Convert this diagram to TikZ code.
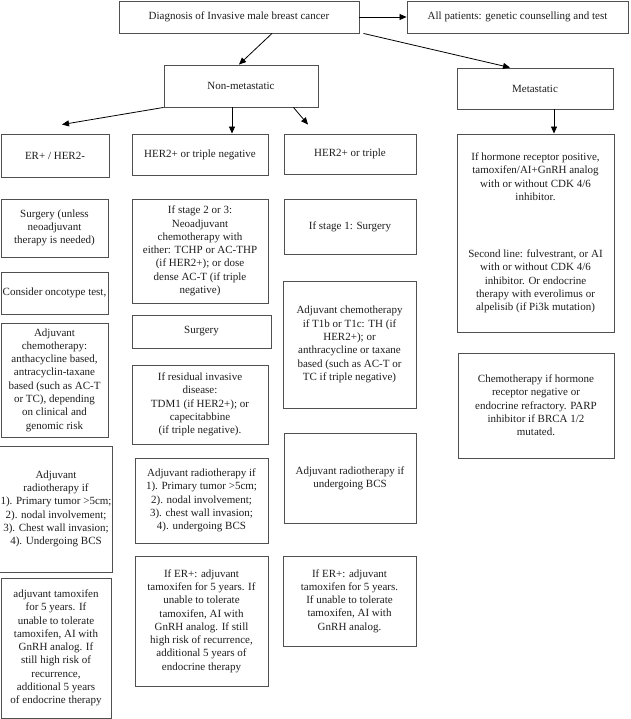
\documentclass[tikz,border=0pt]{standalone}
\usepackage{fontspec}
\setmainfont{Liberation Serif}
\usetikzlibrary{arrows.meta}
\definecolor{boxline}{HTML}{505050}
\definecolor{txt}{HTML}{1E1E1E}
\begin{document}
\begin{tikzpicture}[x=1pt,y=-1pt,
  bx/.style={draw=boxline, line width=0.9pt, align=center, inner sep=1pt, text=txt,
             font=\fontsize{11}{13.3}\selectfont},
  arr/.style={draw=black, line width=0.8pt, -{Triangle[length=7pt,width=6pt]}}]
\useasboundingbox (0,0) rectangle (630,719);
\fill[white] (0,0) rectangle (630,719);

% top level
\node[bx, minimum width=240pt, minimum height=32pt] (diag) at (239,17) {Diagnosis of Invasive male breast cancer};
\node[bx, minimum width=221pt, minimum height=32pt] (allp) at (517.5,17) {All patients: genetic counselling and test};
\node[bx, minimum width=154pt, minimum height=42pt] (nonmet) at (241,86) {Non-metastatic};
\node[bx, minimum width=156pt, minimum height=41pt] (met) at (535,88.5) {Metastatic};

% column headers
\node[bx, minimum width=108pt, minimum height=43pt] (er) at (55,155.5) {ER+ / HER2-};
\node[bx, minimum width=136pt, minimum height=41pt] (htn) at (200,154.5) {HER2+ or triple negative};
\node[bx, minimum width=132pt, minimum height=40pt] (ht) at (350,154) {HER2+ or triple};

% left column
\node[bx, minimum width=107pt, minimum height=58pt] (surgL) at (54.5,228) {Surgery (unless\\neoadjuvant\\therapy is needed)};
\node[bx, minimum width=107pt, minimum height=42pt] (onco) at (54.5,293) {Consider oncotype test,};
\node[bx, minimum width=107pt, minimum height=114pt] (chemL) at (54.5,380) {Adjuvant\\chemotherapy:\\anthacycline based,\\antracyclin-taxane\\based (such as AC-T\\or TC), depending\\on clinical and\\genomic risk};
\node[bx, minimum width=110pt, minimum height=126pt] (radL) at (56,509) {Adjuvant\\radiotherapy if\\1). Primary tumor >5cm;\\2). nodal involvement;\\3). Chest wall invasion;\\4). Undergoing BCS};
\node[bx, minimum width=110pt, minimum height=140pt] (tamL) at (56,648) {adjuvant tamoxifen\\for 5 years. If\\unable to tolerate\\tamoxifen, AI with\\GnRH analog. If\\still high risk of\\recurrence,\\additional 5 years\\of endocrine therapy};

% middle column
\node[bx, minimum width=136pt, minimum height=104pt] (st23) at (200,251) {If stage 2 or 3:\\Neoadjuvant\\chemotherapy with\\either: TCHP or AC-THP\\(if HER2+); or dose\\dense AC-T (if triple\\negative)};
\node[bx, minimum width=139pt, minimum height=33pt] (surgM) at (201.5,331.5) {Surgery};
\node[bx, minimum width=136pt, minimum height=79pt] (resid) at (200,404.5) {If residual invasive\\disease:\\TDM1 (if HER2+); or\\capecitabbine\\(if triple negative).};
\node[bx, minimum width=133pt, minimum height=85pt] (radM) at (201.5,500.5) {Adjuvant radiotherapy if\\1). Primary tumor >5cm;\\2). nodal involvement;\\3). chest wall invasion;\\4). undergoing BCS};
\node[bx, minimum width=133pt, minimum height=130pt] (tamM) at (201.5,621) {If ER+: adjuvant\\tamoxifen for 5 years. If\\unable to tolerate\\tamoxifen, AI with\\GnRH analog. If still\\high risk of recurrence,\\additional 5 years of\\endocrine therapy};

% right column
\node[bx, minimum width=132pt, minimum height=55pt] (st1) at (350,226.5) {If stage 1: Surgery};
\node[bx, minimum width=133pt, minimum height=127pt] (chemR) at (349.5,344.5) {Adjuvant chemotherapy\\if T1b or T1c: TH (if\\HER2+); or\\anthracycline or taxane\\based (such as AC-T or\\TC if triple negative)};
\node[bx, minimum width=132pt, minimum height=90pt] (radR) at (350,478) {Adjuvant radiotherapy if\\undergoing BCS};
\node[bx, minimum width=133pt, minimum height=90pt] (tamR) at (349.5,601) {If ER+: adjuvant\\tamoxifen for 5 years.\\If unable to tolerate\\tamoxifen, AI with\\GnRH analog.};

% metastatic column
\node[bx, minimum width=157pt, minimum height=198pt] (met1) at (535.5,233) {If hormone receptor positive,\\tamoxifen/AI+GnRH analog\\with or without CDK 4/6\\inhibitor.\\[43.7pt]Second line: fulvestrant, or AI\\with or without CDK 4/6\\inhibitor. Or endocrine\\therapy with everolimus or\\alpelisib (if Pi3k mutation)};
\node[bx, minimum width=156pt, minimum height=105pt] (met2) at (536,405.5) {Chemotherapy if hormone\\receptor negative or\\endocrine refractory. PARP\\inhibitor if BRCA 1/2\\mutated.};

% connectors
\draw[arr] (diag.east) -- (allp.west);
\draw[arr] ([xshift=33pt]diag.south) -- ([xshift=-2pt]nonmet.north);
\draw[arr] ([xshift=4pt]diag.south east) -- ([xshift=-25pt]met.north);
\draw[arr] ([xshift=19pt]met.south) -- ([xshift=19pt]met.south |- met1.north);
\draw[arr] (nonmet.south west) -- ([xshift=7pt,yshift=9pt]er.north);
\draw[arr] ([xshift=-9pt]nonmet.south) -- ([xshift=-9pt]nonmet.south |- htn.north);
\draw[arr] ([xshift=-25pt]nonmet.south east) -- ([xshift=-42pt,yshift=9pt]ht.north);
\end{tikzpicture}
\end{document}
